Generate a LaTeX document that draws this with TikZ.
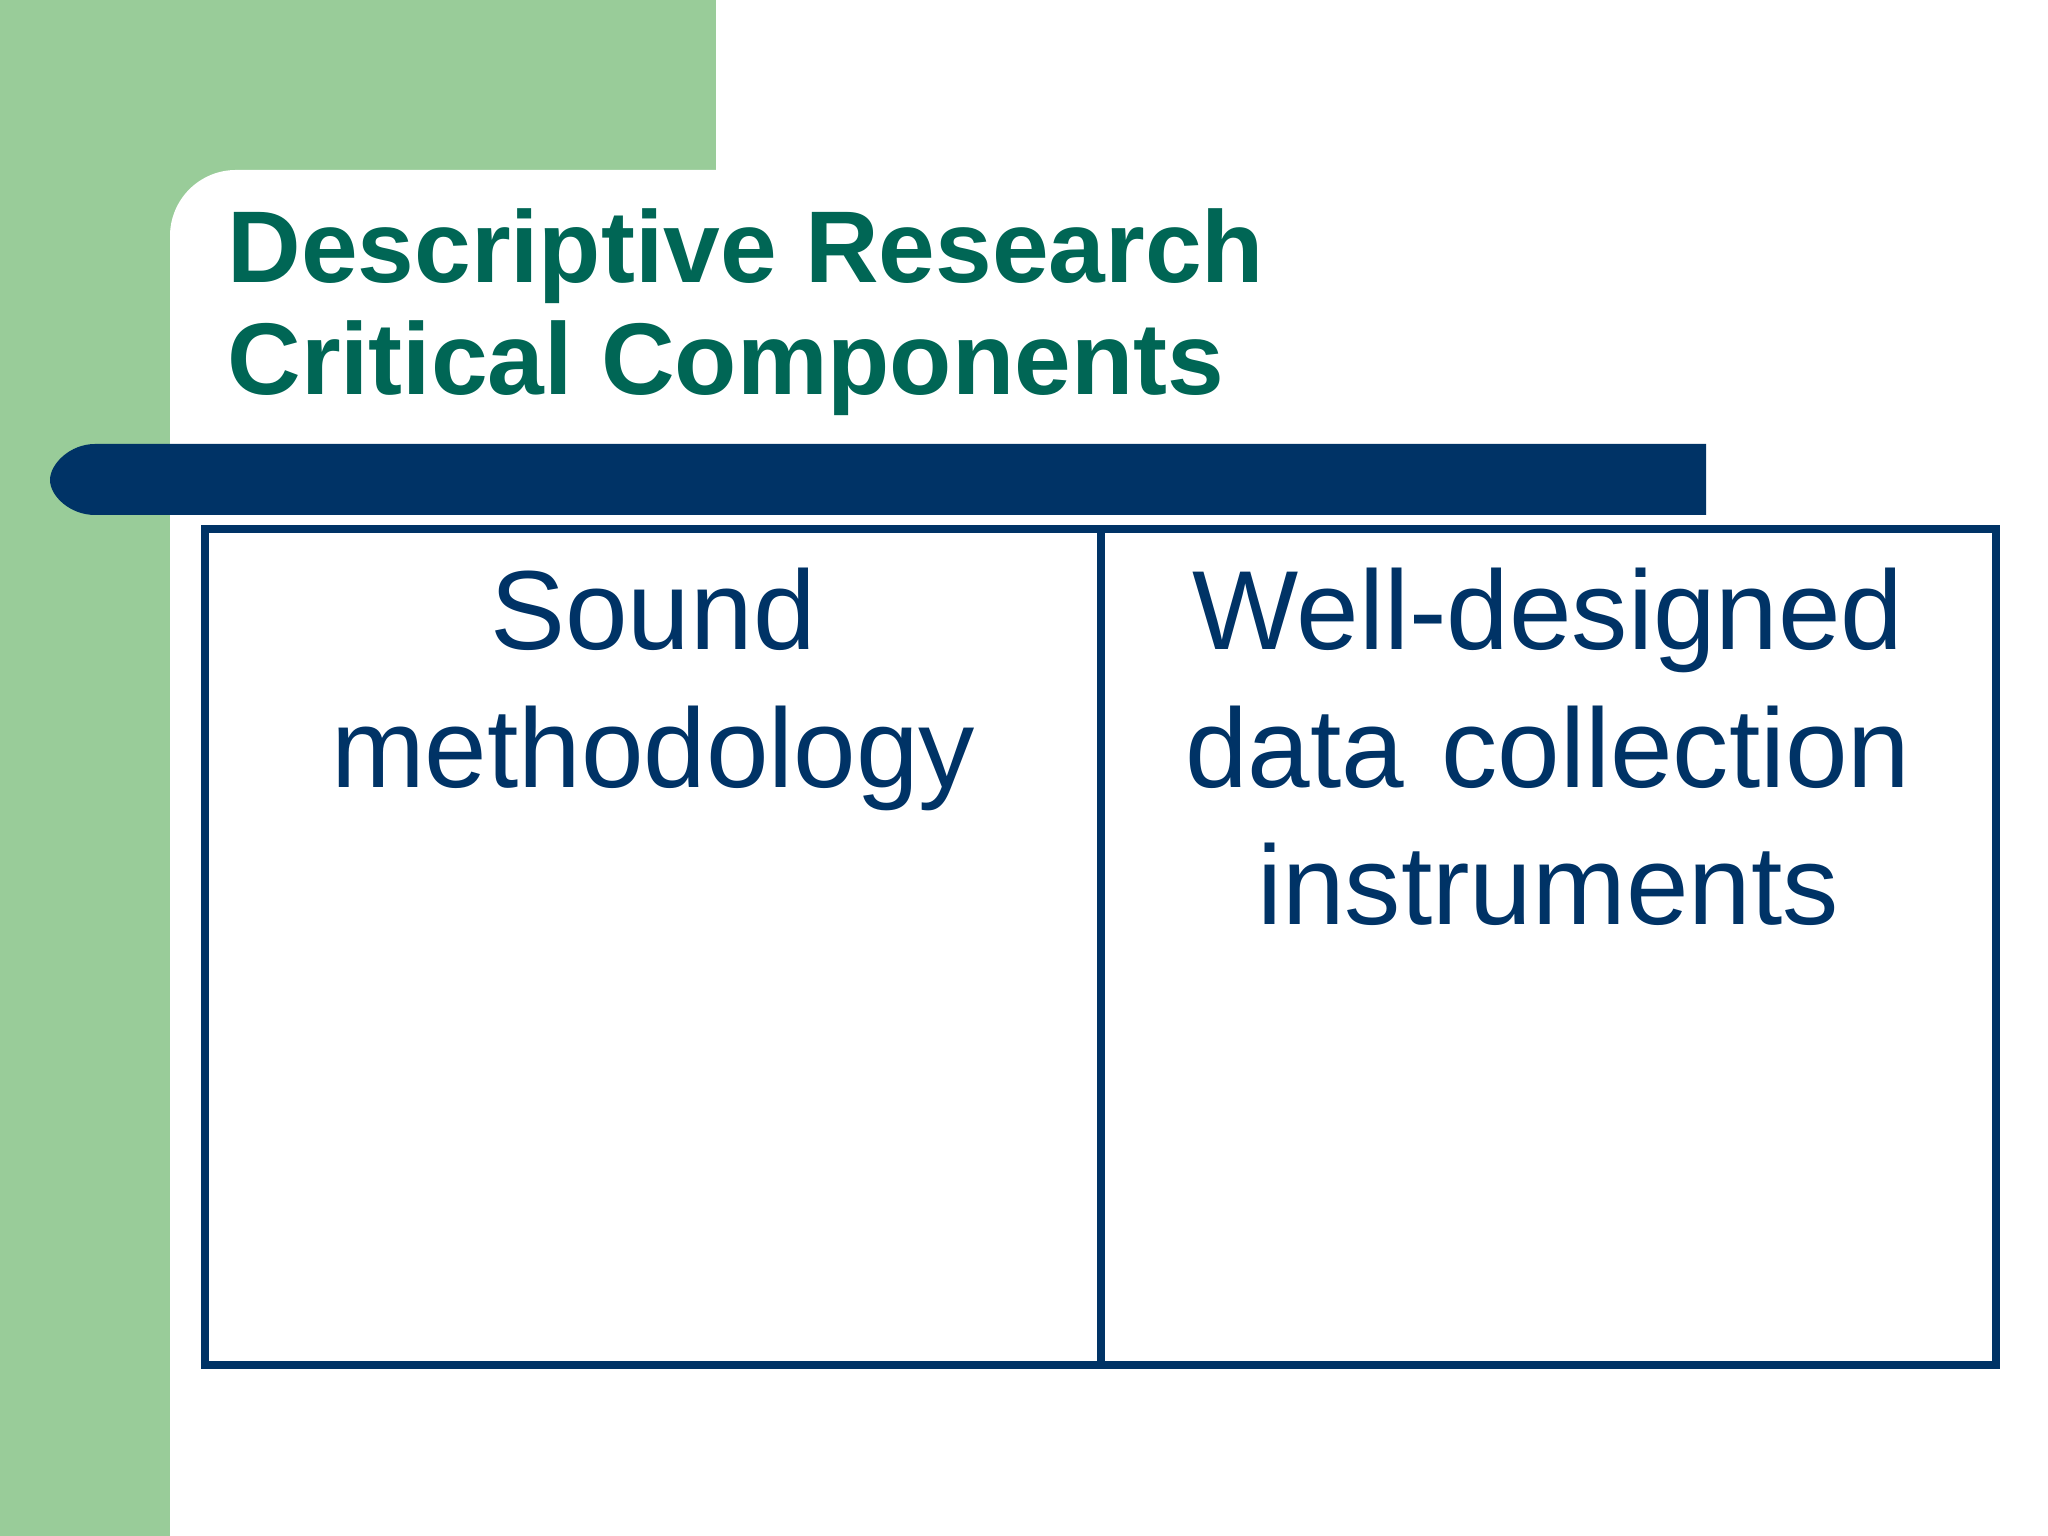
\documentclass[tikz,border=0pt]{standalone}
\usepackage{fontspec}
\setmainfont{Liberation Sans}
\definecolor{grn}{RGB}{153,204,153}
\definecolor{teal}{RGB}{0,102,85}
\definecolor{navy}{RGB}{0,51,102}
\begin{document}
\begin{tikzpicture}[x=1cm,y=1cm,
  cell/.style={text=navy,align=center,font=\fontsize{32}{39}\selectfont,anchor=base,text width=8.5cm}]
\useasboundingbox (0,0) rectangle (20.48,15.36);
\fill[white] (0,0) rectangle (20.48,15.36);
\fill[grn] (0,0) rectangle (1.70,15.36);
\fill[grn] (0,12.9) rectangle (7.16,15.36);
\fill[white] (1.70,0) -- (1.70,13.0) arc[start angle=180,end angle=90,radius=0.66] -- (7.16,13.66) -- (7.16,0) -- cycle;
\fill[white] (7.16,0) rectangle (20.48,13.66);
\node[anchor=base west,text=teal,font=\fontsize{29}{35}\selectfont\bfseries,align=left] (title) at (2.15,12.53) {Descriptive Research};
\node[anchor=base west,text=teal,font=\fontsize{29}{35}\selectfont\bfseries,align=left] (title2) at (2.15,11.41) {Critical Components};
\fill[navy] (0.95,10.21) -- (17.06,10.21) -- (17.06,10.92) -- (0.95,10.92) .. controls (0.70,10.92) and (0.50,10.72) .. (0.50,10.56) .. controls (0.50,10.40) and (0.70,10.21) .. (0.95,10.21) -- cycle;
\draw[navy,line width=2.5pt] (2.05,1.71) rectangle (19.96,10.07);
\draw[navy,line width=2.5pt] (11.01,1.71) -- (11.01,10.07);
\node[cell] (a) at (6.53,8.86) {Sound\\methodology};
\node[cell] (b) at (15.48,8.86) {Well-designed\\data collection\\instruments};
\end{tikzpicture}
\end{document}
